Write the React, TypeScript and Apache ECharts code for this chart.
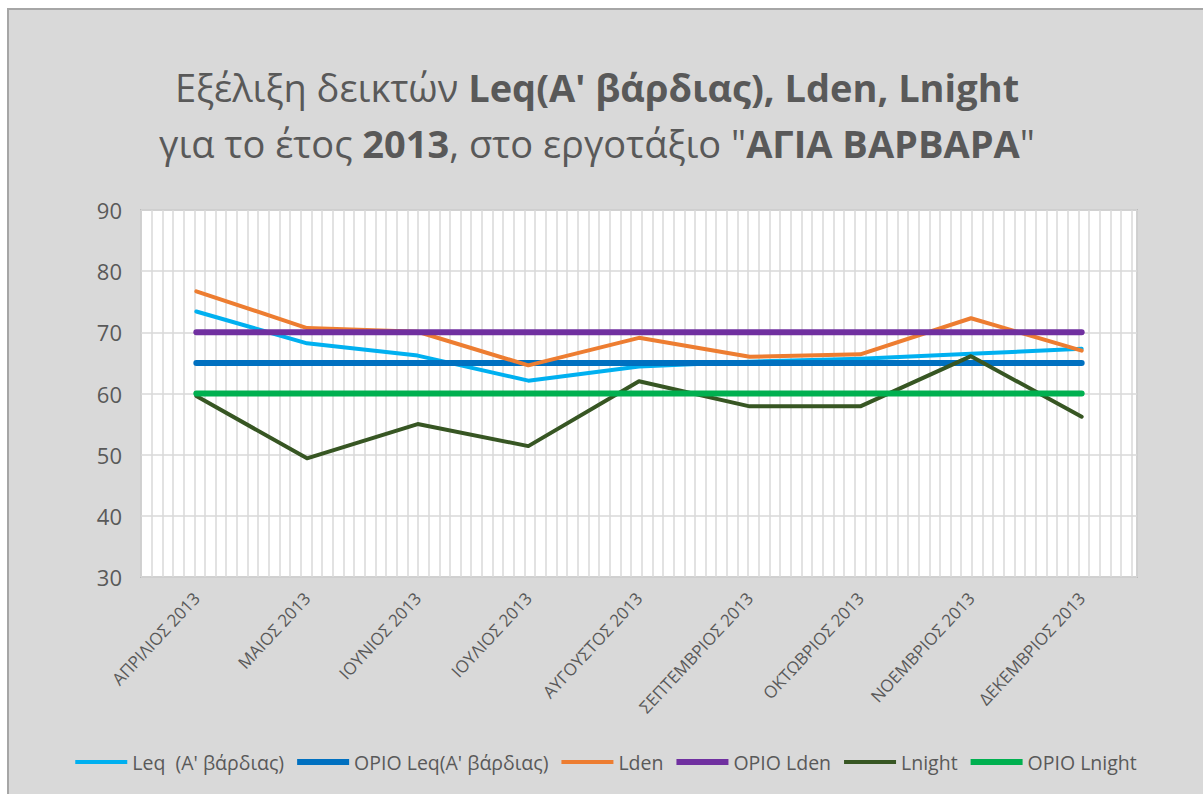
import React, { useEffect, useRef } from "react";
import * as echarts from "echarts";

const categories = [
  "ΑΠΡΙΛΙΟΣ 2013",
  "ΜΑΙΟΣ 2013",
  "ΙΟΥΝΙΟΣ 2013",
  "ΙΟΥΛΙΟΣ 2013",
  "ΑΥΓΟΥΣΤΟΣ 2013",
  "ΣΕΠΤΕΜΒΡΙΟΣ 2013",
  "ΟΚΤΩΒΡΙΟΣ 2013",
  "ΝΟΕΜΒΡΙΟΣ 2013",
  "ΔΕΚΕΜΒΡΙΟΣ 2013",
];

const leq = [73.4, 68.2, 66.2, 62.1, 64.4, 65.2, 65.7, 66.5, 67.3];
const leqLimit = [65, 65, 65, 65, 65, 65, 65, 65, 65];
const lden = [76.7, 70.7, 70.1, 64.6, 69.1, 66.0, 66.4, 72.3, 67.0];
const ldenLimit = [70, 70, 70, 70, 70, 70, 70, 70, 70];
const lnight = [59.6, 49.4, 55.0, 51.4, 62.0, 57.9, 57.9, 66.1, 56.2];
const lnightLimit = [60, 60, 60, 60, 60, 60, 60, 60, 60];

const seriesNames = [
  "Leq  (A' βάρδιας)",
  "ΟΡΙΟ Leq(A' βάρδιας)",
  "Lden",
  "ΟΡΙΟ Lden",
  "Lnight",
  "ΟΡΙΟ Lnight",
];
const seriesData = [leq, leqLimit, lden, ldenLimit, lnight, lnightLimit];
const seriesColors = ["#00b0f0", "#0070c0", "#ed7d31", "#7030a0", "#375623", "#00b050"];
const seriesWidths = [4, 6, 4, 6, 4, 6];

const yTicks = { min: 30, max: 90, interval: 10 };

const FONT = "'Open Sans', 'Noto Sans', sans-serif";
const TXT = "#595959";

export default function App() {
  const ref = useRef<HTMLDivElement>(null);

  useEffect(() => {
    if (!ref.current) return;
    const chart = echarts.init(ref.current, null, { renderer: "svg" });
    chart.setOption({
      animation: false,
      backgroundColor: "#d9d9d9",
      textStyle: { fontFamily: FONT },
      title: {
        left: 583,
        top: 44,
        textAlign: "center",
        text:
          "{n|Εξέλιξη δεικτών }{b|Leq(A' βάρδιας), Lden, Lnight}\n" +
          "{n|για το έτος }{b|2013}{n|, στο εργοτάξιο \"}{b|ΑΓΙΑ ΒΑΡΒΑΡΑ}{n|\"}",
        textStyle: {
          rich: {
            n: { fontSize: 38, color: TXT, fontFamily: FONT, fontWeight: "normal", lineHeight: 56 },
            b: { fontSize: 38, color: TXT, fontFamily: FONT, fontWeight: "bold", lineHeight: 56 },
          },
        },
      },
      legend: {
        bottom: 17,
        left: "center",
        itemWidth: 52,
        itemHeight: 14,
        itemGap: 13,
        textStyle: { fontSize: 19.5, color: TXT, fontFamily: FONT },
        data: seriesNames.map((name, i) => ({
          name,
          icon: i % 2 === 0 ? "path://M0,0 h52 v4 h-52 z" : "path://M0,0 h52 v6 h-52 z",
          itemStyle: { color: seriesColors[i] },
        })),
      },
      grid: {
        left: 132,
        right: 66,
        top: 200,
        bottom: 217,
        show: true,
        backgroundColor: "#ffffff",
        borderColor: "#a6a6a6",
        borderWidth: 1.5,
        containLabel: false,
      },
      xAxis: [
        {
          type: "category",
          data: categories,
          boundaryGap: true,
          axisLine: { show: false },
          axisTick: { show: false },
          splitLine: { show: false },
          axisLabel: {
            rotate: 47,
            margin: 18,
            fontSize: 17,
            color: TXT,
            fontFamily: FONT,
            interval: 0,
          },
        },
        {
          type: "value",
          min: 0,
          max: 93.5,
          interval: 1,
          position: "bottom",
          axisLine: { show: false },
          axisTick: { show: false },
          axisLabel: { show: false },
          splitLine: { show: true, lineStyle: { color: "#d9d9d9", width: 1.5 } },
        },
      ],
      yAxis: {
        type: "value",
        min: yTicks.min,
        max: yTicks.max,
        interval: yTicks.interval,
        axisLine: { show: false },
        axisTick: { show: false },
        axisLabel: { fontSize: 22, color: TXT, fontFamily: FONT, margin: 19 },
        splitLine: { lineStyle: { color: "#d9d9d9", width: 1.5 } },
      },
      series: seriesNames.map((name, i) => ({
        name,
        type: "line",
        xAxisIndex: 0,
        data: seriesData[i],
        symbol: "none",
        color: seriesColors[i],
        lineStyle: { color: seriesColors[i], width: seriesWidths[i], cap: "round", join: "round" },
        z: 2 + i,
      })),
    });
    return () => chart.dispose();
  }, []);

  return (
    <div
      style={{
        position: "absolute",
        left: 7,
        top: 8,
        width: 1196,
        height: 786,
        boxSizing: "border-box",
        borderLeft: "2px solid #a6a6a6",
        borderTop: "2px solid #a6a6a6",
      }}
    >
      <div ref={ref} style={{ width: "100%", height: "100%" }} />
    </div>
  );
}
